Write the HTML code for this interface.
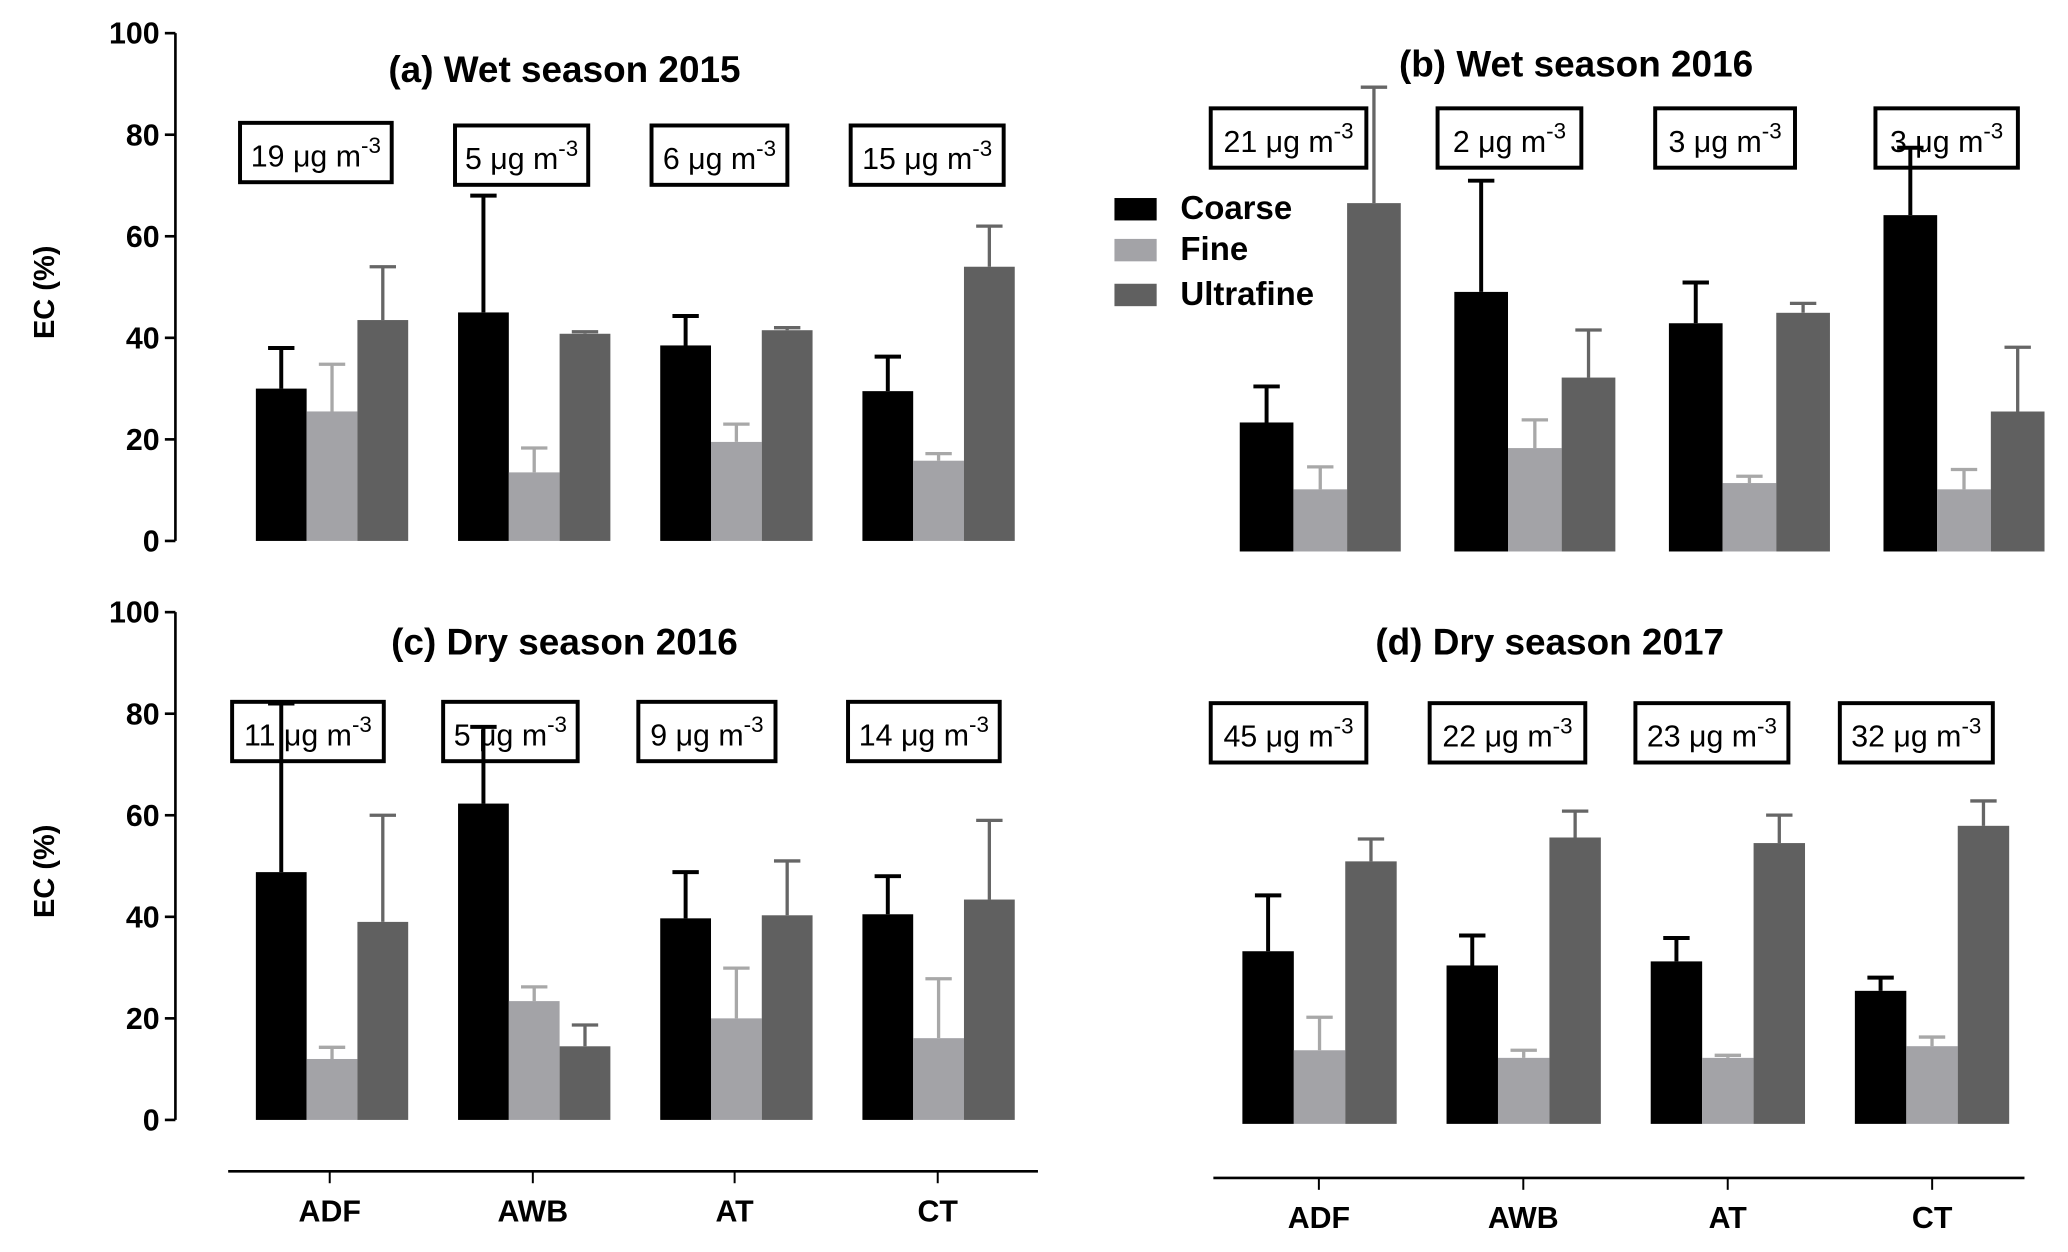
<!DOCTYPE html>
<html><head><meta charset="utf-8"><style>
html,body{margin:0;padding:0;background:#fff}
svg{display:block}
text{font-family:"Liberation Sans",sans-serif;font-weight:bold;fill:#000}
</style></head><body>
<svg id="chart" width="2068" height="1252" viewBox="0 0 1568 949" xmlns="http://www.w3.org/2000/svg"></svg>
<script>
const sites = ["ADF","AWB","AT","CT"];
const seriesNames = ["Coarse","Fine","Ultrafine"];
const yTicks = [0,20,40,60,80,100];
const coarseA = [30,45,38.5,29.5], coarseErrA = [38,68,44.3,36.3];
const fineA = [25.5,13.5,19.5,15.8], fineErrA = [34.8,18.3,23,17.2];
const ultraA = [43.5,40.8,41.5,54], ultraErrA = [54,41.2,42,62];
const coarseB = [24.7,49.7,43.7,64.4], coarseErrB = [31.6,71,51.5,77.3];
const fineB = [11.9,19.8,13.1,11.9], fineErrB = [16.2,25.2,14.4,15.7];
const ultraB = [66.7,33.3,45.7,26.8], ultraErrB = [88.9,42.4,47.5,39.1];
const coarseC = [48.8,62.3,39.7,40.5], coarseErrC = [82,77.4,48.8,48];
const fineC = [12,23.4,20,16.1], fineErrC = [14.3,26.2,29.9,27.8];
const ultraC = [39,14.5,40.3,43.4], ultraErrC = [60,18.7,51,59];
const coarseD = [34,31.2,32,26.2], coarseErrD = [45,37.1,36.6,28.8];
const fineD = [14.5,13,13,15.3], fineErrD = [21,14.5,13.5,17.1];
const ultraD = [51.7,56.4,55.3,58.7], ultraErrD = [56.1,61.6,60.8,63.6];
const concA = ["19","5","6","15"], concB = ["21","2","3","3"];
const concC = ["11","5","9","14"], concD = ["45","22","23","32"];
const titles = ["(a) Wet season 2015","(b) Wet  season 2016","(c) Dry season 2016","(d) Dry season 2017"];

const NS="http://www.w3.org/2000/svg";
const svg=document.getElementById('chart');
function mk(tag,attrs,parent){const e=document.createElementNS(NS,tag);for(const k in attrs)e.setAttribute(k,attrs[k]);(parent||svg).appendChild(e);return e;}
const colors=["#000000","#a3a3a7","#606060"];
const errColors=["#000000","#a8a8a8","#666666"];

const panels=[
 {id:"a",base:410,top:25,g0:194,gs:153.3,bw:38.5,data:[coarseA,fineA,ultraA],err:[coarseErrA,fineErrA,ultraErrA],conc:concA,boxes:[[182,93,115],[345,95,101],[494,95,103],[645,95,116]],tx:428,ty:62,axis:true},
 {id:"b",base:418,top:22,g0:940,gs:162.7,bw:40.7,data:[coarseB,fineB,ultraB],err:[coarseErrB,fineErrB,ultraErrB],conc:concB,boxes:[[918,82,118],[1090,82,109],[1255,82,106],[1422,82,108]],tx:1195,ty:58,axis:false},
 {id:"c",base:849,top:464,g0:194,gs:153.3,bw:38.5,data:[coarseC,fineC,ultraC],err:[coarseErrC,fineErrC,ultraErrC],conc:concC,boxes:[[176,532,115],[336,532,102],[484,532,104],[643,532,115]],tx:428,ty:496,axis:true},
 {id:"d",base:852,top:467,g0:942,gs:154.8,bw:39,data:[coarseD,fineD,ultraD],err:[coarseErrD,fineErrD,ultraErrD],conc:concD,boxes:[[918,533,118],[1084,533,118],[1240,533,116],[1395,533,116]],tx:1175,ty:496,axis:false}
];

function txt(g,x,y,size,str,anchor,name){
  const t=mk('text',{x:x,y:y,'font-size':size,'text-anchor':anchor||'middle'},g);
  
  
  t.textContent=str;return t;
}

panels.forEach((p,pi)=>{
  const g=mk('g',{});
  
  
  const y=v=>p.base-(p.base-p.top)*v/100;
  if(p.axis){
    const ax=mk('g',{},g);
    
    
    mk('line',{x1:133,x2:133,y1:y(100),y2:y(0),stroke:'#000','stroke-width':2},ax);
    yTicks.forEach(v=>{
      mk('line',{x1:125,x2:133,y1:y(v),y2:y(v),stroke:'#000','stroke-width':2},ax);
      txt(ax,121,y(v)+8,23,String(v),'end','y-tick-label');
    });
    const yl=mk('text',{transform:`translate(41,${(y(0)+y(100))/2+4}) rotate(-90)`,'font-size':22,'text-anchor':'middle'},ax);
    
    
    yl.textContent='EC (%)';
  }
  txt(g,p.tx,p.ty,28,titles[pi],'middle','panel-title-'+p.id);
  sites.forEach((s,i)=>{
    const gx=p.g0+i*p.gs;
    p.data.forEach((arr,si)=>{
      const x=gx+si*p.bw, v=arr[i], e=p.err[si][i], cx=x+p.bw/2;
      const r=mk('rect',{x:x,y:y(v),width:p.bw,height:p.base-y(v),fill:colors[si]},g);
      
      
      const eb=mk('path',{d:`M${cx},${y(v)}V${y(e)}M${cx-10},${y(e)}H${cx+10}`,stroke:errColors[si],'stroke-width':si===0?3:2.5,fill:'none'},g);
      
      
    });
    const b=p.boxes[i];
    const bx=mk('rect',{x:b[0],y:b[1],width:b[2],height:45,fill:'none',stroke:'#000','stroke-width':3},g);
    
    
    const t=mk('text',{x:b[0]+b[2]/2,y:b[1]+33,'font-size':23,'text-anchor':'middle',style:'font-weight:normal'},g);
    
    
    t.innerHTML=p.conc[i]+' \u03bcg m<tspan dy="-10" font-size="17">-3</tspan>';
  });
});

// x-axes
[[173,787,888,[250,404,557,711],917],[920,1535,893,[1000,1155,1310,1465],922]].forEach((a,ai)=>{
  const g=mk('g',{});
  
  
  mk('line',{x1:a[0],x2:a[1],y1:a[2],y2:a[2],stroke:'#000','stroke-width':2},g);
  sites.forEach((s,i)=>{
    mk('line',{x1:a[3][i],x2:a[3][i],y1:a[2],y2:a[2]+9,stroke:'#000','stroke-width':1.5},g);
    txt(g,a[3][i],a[4]+9,23,s,'middle','x-tick-label');
  });
});

// legend
const lg=mk('g',{});


[150,181,215].forEach((ly,i)=>{
  const e=mk('g',{},lg);
  
  
  mk('rect',{x:845,y:ly,width:32,height:17,fill:colors[i]},e);
  txt(e,895,ly+16,25,seriesNames[i],'start','legend-label');
});
</script>
</body></html>
